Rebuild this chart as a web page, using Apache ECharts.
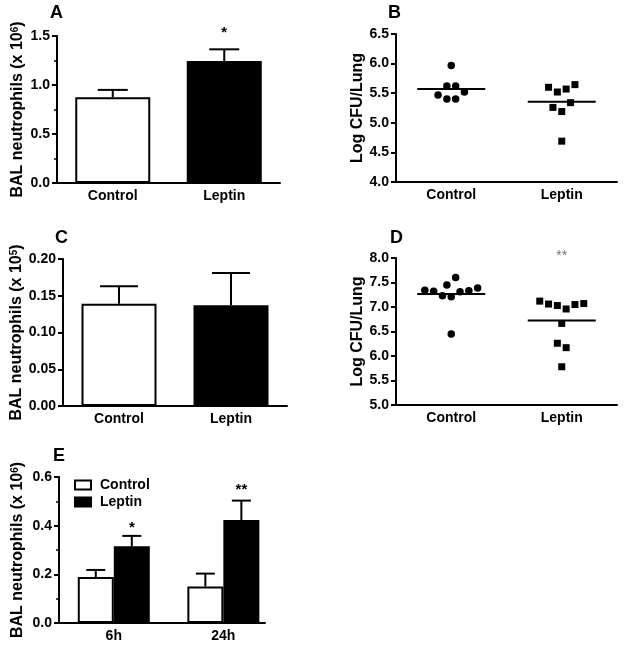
<!DOCTYPE html>
<html><head><meta charset="utf-8">
<script src="https://cdn.jsdelivr.net/npm/echarts@6/dist/echarts.min.js"></script>
<style>html,body{margin:0;padding:0;background:#fff}#c{width:624px;height:647px}</style>
</head><body><div id="c"></div>
<script>
// ---------- data ----------
const groups = ['Control', 'Leptin'];
// Panel A
const aMeans = [0.875, 1.245];
const aErrTop = [0.95, 1.364];
const aSig = ['', '*'];
const aSigY = [null, 1.56];
// Panel B
const bControl = [5.97, 5.47, 5.62, 5.62, 5.52, 5.40, 5.40];
const bLeptin = [5.60, 5.52, 5.57, 5.645, 5.26, 5.19, 5.34, 4.69];
const bLine = [5.57, 5.357];
// Panel C
const cMeans = [0.139, 0.137];
const cErrTop = [0.163, 0.181];
// Panel D
const dControl = [7.45, 7.60, 7.34, 7.32, 7.23, 7.21, 7.31, 7.33, 7.39, 6.45];
const dLeptin = [7.12, 7.06, 7.03, 6.96, 7.05, 7.07, 6.665, 6.26, 6.17, 5.78];
const dLine = [7.264, 6.726];
const dSig = ['', '**'];
const dSigY = [null, 8.096];
// Panel E
const times = ['6h', '24h'];
const eControl = [0.189, 0.150];
const eControlErrTop = [0.218, 0.203];
const eLeptin = [0.315, 0.423];
const eLeptinErrTop = [0.358, 0.503];
const eSig = ['*', '**'];
const eSigY = [0.402, 0.559];
// tick labels
const aTicks = {min: 0, max: 1.5, step: 0.5, dec: 1};
const bTicks = {min: 4, max: 6.5, step: 0.5, dec: 1};
const cTicks = {min: 0, max: 0.2, step: 0.05, dec: 2};
const dTicks = {min: 5, max: 8, step: 0.5, dec: 1};
const eTicks = {min: 0, max: 0.6, step: 0.2, dec: 1};

// ---------- helpers ----------
const FONT = 'Liberation Sans, Arial, sans-serif';
const grids = [
  {left: 57, top: 36, width: 223, height: 147},
  {left: 396, top: 34, width: 221, height: 148},
  {left: 63, top: 259, width: 224, height: 147},
  {left: 396, top: 258, width: 221, height: 147},
  {left: 59, top: 477, width: 206, height: 146}
];

function yAxisOf(gi, t, name, gap, minor) {
  return {
    type: 'value', gridIndex: gi, min: t.min, max: t.max, interval: t.step,
    name: name, nameLocation: 'middle', nameRotate: 90, nameGap: gap,
    nameTextStyle: {fontFamily: FONT, fontSize: 16, fontWeight: 'bold', color: '#000',
      rich: {s: {fontFamily: FONT, fontSize: 10, fontWeight: 'bold', color: '#000', verticalAlign: 'top'}}},
    axisLine: {show: true, lineStyle: {color: '#000', width: 2}},
    axisTick: {show: true, length: 5, lineStyle: {color: '#000', width: 2}},
    minorTick: {show: !!minor, splitNumber: 2, length: 3, lineStyle: {color: '#000', width: 1.5}},
    splitLine: {show: false},
    axisLabel: {color: '#000', fontFamily: FONT, fontSize: 14, fontWeight: 'bold', margin: 7,
      formatter: v => v.toFixed(t.dec)}
  };
}
function xCatAxis(gi) {
  return {
    type: 'category', gridIndex: gi, data: groups, boundaryGap: true,
    axisLine: {show: true, lineStyle: {color: '#000', width: 2}},
    axisTick: {show: false},
    axisLabel: {color: '#000', fontFamily: FONT, fontSize: 14, fontWeight: 'bold', margin: 6}
  };
}
function errSeries(gi, means, tops, capHalf, dx) {
  return {
    type: 'custom', xAxisIndex: gi, yAxisIndex: gi, z: 5,
    data: means.map((m, i) => [i, m, tops[i]]),
    renderItem: function (params, api) {
      const x = api.value(0);
      const p0 = api.coord([x, api.value(1)]);
      const p1 = api.coord([x, api.value(2)]);
      const cx = p0[0] + dx;
      const st = {stroke: '#000', lineWidth: 2};
      return {type: 'group', children: [
        {type: 'line', shape: {x1: cx, y1: p0[1], x2: cx, y2: p1[1]}, style: st},
        {type: 'line', shape: {x1: cx - capHalf, y1: p1[1], x2: cx + capHalf, y2: p1[1]}, style: st}
      ]};
    }
  };
}
function sigSeries(gi, xs, sig, sigY, style) {
  const data = [];
  sig.forEach((s, i) => { if (s) data.push([xs[i], sigY[i], i]); });
  return {
    type: 'custom', xAxisIndex: gi, yAxisIndex: gi, z: 6, data: data,
    renderItem: function (params, api) {
      const p = api.coord([api.value(0), api.value(1)]);
      return {type: 'text', x: p[0], y: p[1] + 3,
        style: Object.assign({text: sig[api.value(2)], align: 'center', verticalAlign: 'middle',
          fontFamily: FONT}, style)};
    }
  };
}
// beeswarm-like layout: points whose values fall within one row band are spread symmetrically
function swarmOffsets(values, pxPerUnit, spacing, rowTol) {
  const order = values.map((v, i) => i).sort((a, b) => values[b] - values[a]);
  const rows = []; let cur = null;
  order.forEach(i => {
    if (!cur || (cur.start - values[i]) * pxPerUnit >= rowTol) { cur = {start: values[i], items: []}; rows.push(cur); }
    cur.items.push(i);
  });
  const off = values.map(() => 0);
  rows.forEach(r => {
    r.items.sort((a, b) => a - b);
    const n = r.items.length;
    r.items.forEach((i, k) => { off[i] = (k - (n - 1) / 2) * spacing; });
  });
  return off;
}
function scatterSeries(gi, ci, values, t, symbol, size) {
  const ppu = grids[gi].height / (t.max - t.min);
  const off = swarmOffsets(values, ppu, 8.8, 9.6);
  return {
    type: 'scatter', xAxisIndex: gi, yAxisIndex: gi, symbol: symbol, symbolSize: size,
    itemStyle: {color: '#000', opacity: 1},
    data: values.map((v, i) => ({value: [ci, v], symbolOffset: [off[i], 0]}))
  };
}
function lineSeries(gi, lines, half) {
  return {
    type: 'custom', xAxisIndex: gi, yAxisIndex: gi, z: 4,
    data: lines.map((v, i) => [i, v]),
    renderItem: function (params, api) {
      const p = api.coord([api.value(0), api.value(1)]);
      return {type: 'line', shape: {x1: p[0] - half, y1: p[1], x2: p[0] + half, y2: p[1]},
        style: {stroke: '#000', lineWidth: 2}};
    }
  };
}
const starStyle = {fontSize: 15, fontWeight: 'bold', fill: '#000'};

// ---------- option ----------
const chart = echarts.init(document.getElementById('c'), null, {renderer: 'canvas'});
const panelTitle = (t, l, tp) => ({text: t, left: l, top: tp, padding: 0,
  textStyle: {fontFamily: FONT, fontSize: 18, fontWeight: 'bold', color: '#000'}});

const option = {
  animation: false,
  backgroundColor: '#fff',
  textStyle: {fontFamily: FONT},
  title: [panelTitle('A', 50, 4), panelTitle('B', 388, 4), panelTitle('C', 55, 229),
          panelTitle('D', 390, 229), panelTitle('E', 53, 447)],
  grid: grids.map(g => Object.assign({containLabel: false}, g)),
  legend: {
    left: 74, top: 478, padding: 0, orient: 'vertical', itemWidth: 16, itemHeight: 9, itemGap: 3,
    icon: 'rect',
    textStyle: {fontFamily: FONT, fontSize: 14, fontWeight: 'bold', color: '#000', lineHeight: 14, padding: [0, 0, 0, 4]},
    data: [
      {name: 'Control', itemStyle: {color: '#fff', borderColor: '#000', borderWidth: 2}},
      {name: 'Leptin', itemStyle: {color: '#000', borderColor: '#000', borderWidth: 2}}
    ]
  },
  xAxis: [
    xCatAxis(0), xCatAxis(1), xCatAxis(2), xCatAxis(3),
    {
      type: 'value', gridIndex: 4, min: 0.5, max: 2.38,
      axisLine: {show: true, lineStyle: {color: '#000', width: 2}},
      axisTick: {show: false}, splitLine: {show: false},
      axisLabel: {customValues: [1, 2], color: '#000', fontFamily: FONT, fontSize: 14, fontWeight: 'bold', margin: 6,
        formatter: v => times[Math.round(v) - 1] || ''}
    }
  ],
  yAxis: [
    yAxisOf(0, aTicks, 'BAL neutrophils (x 10{s|6})', 31, true),
    yAxisOf(1, bTicks, 'Log CFU/Lung', 30, false),
    yAxisOf(2, cTicks, 'BAL neutrophils (x 10{s|5})', 37, false),
    yAxisOf(3, dTicks, 'Log CFU/Lung', 30, false),
    yAxisOf(4, eTicks, 'BAL neutrophils (x 10{s|6})', 33, true)
  ],
  series: [
    // A
    {type: 'bar', xAxisIndex: 0, yAxisIndex: 0, barWidth: 75,
      data: aMeans.map((v, i) => ({value: v, itemStyle: i === 0
        ? {color: '#fff', borderColor: '#000', borderWidth: 2}
        : {color: '#000', borderColor: '#000', borderWidth: 2}}))},
    errSeries(0, aMeans, aErrTop, 15, 0),
    sigSeries(0, [0, 1], aSig, aSigY, starStyle),
    // B
    scatterSeries(1, 0, bControl, bTicks, 'circle', 7.5),
    scatterSeries(1, 1, bLeptin, bTicks, 'rect', 7),
    lineSeries(1, bLine, 34),
    // C
    {type: 'bar', xAxisIndex: 2, yAxisIndex: 2, barWidth: 75,
      data: cMeans.map((v, i) => ({value: v, itemStyle: i === 0
        ? {color: '#fff', borderColor: '#000', borderWidth: 2}
        : {color: '#000', borderColor: '#000', borderWidth: 2}}))},
    errSeries(2, cMeans, cErrTop, 19, 0),
    // D
    scatterSeries(3, 0, dControl, dTicks, 'circle', 7.5),
    scatterSeries(3, 1, dLeptin, dTicks, 'rect', 7),
    lineSeries(3, dLine, 34),
    sigSeries(3, [0, 1], dSig, dSigY, {fontSize: 14, fontWeight: 'normal', fill: '#777'}),
    // E
    {name: 'Control', type: 'bar', xAxisIndex: 4, yAxisIndex: 4, barWidth: 36, barGap: '0%',
      itemStyle: {color: '#fff', borderColor: '#000', borderWidth: 2},
      data: eControl.map((v, i) => [i + 1, v])},
    {name: 'Leptin', type: 'bar', xAxisIndex: 4, yAxisIndex: 4, barWidth: 36, barGap: '0%',
      itemStyle: {color: '#000', borderColor: '#000', borderWidth: 2},
      data: eLeptin.map((v, i) => [i + 1, v])},
    Object.assign(errSeries(4, eControl, eControlErrTop, 9.5, -18), {data: eControl.map((m, i) => [i + 1, m, eControlErrTop[i]])}),
    Object.assign(errSeries(4, eLeptin, eLeptinErrTop, 9.5, 18), {data: eLeptin.map((m, i) => [i + 1, m, eLeptinErrTop[i]])}),
    sigSeries(4, [1.165, 2.165], eSig, eSigY, starStyle)
  ]
};
chart.setOption(option);
</script>
</body></html>
